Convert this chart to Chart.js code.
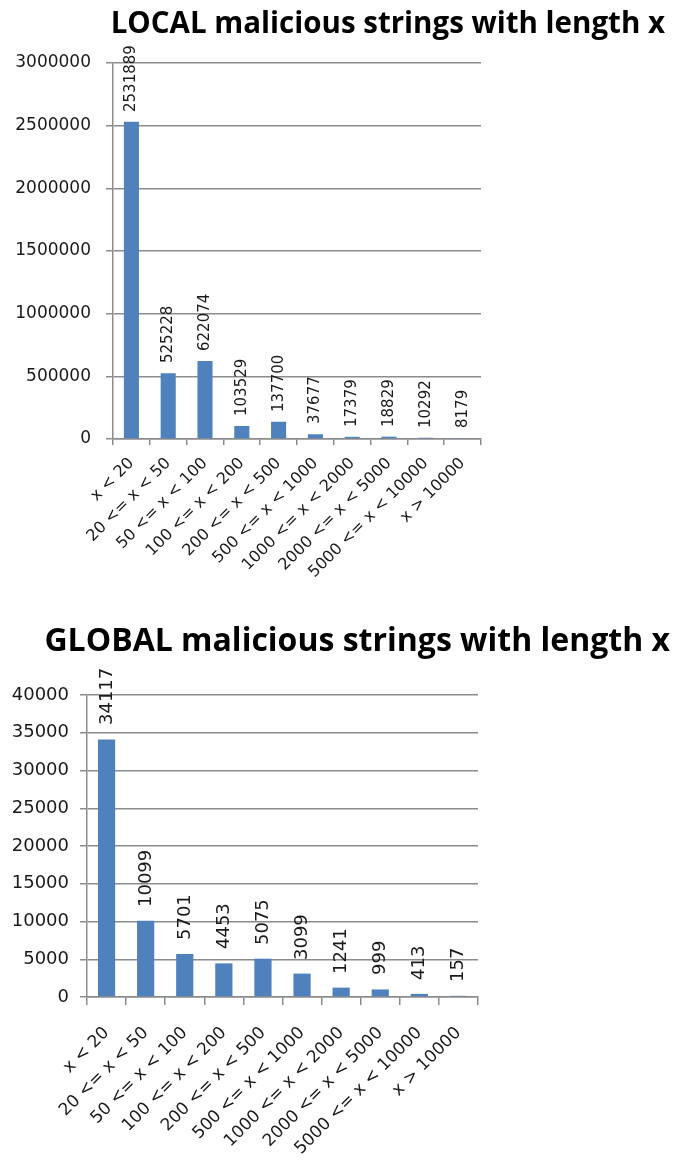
<!DOCTYPE html>
<html>
<head>
<meta charset="utf-8">
<script src="https://cdn.jsdelivr.net/npm/chart.js@4/dist/chart.umd.min.js"></script>
<style>
  html, body { margin: 0; padding: 0; background: #fff; }
  body { position: relative; width: 673px; height: 1165px; overflow: hidden; }
  canvas { position: absolute; left: 0; }
  .title {
    position: absolute; white-space: nowrap;
    font-family: "Open Sans", sans-serif; font-weight: bold; color: #000;
    line-height: 1;
  }
</style>
</head>
<body>
<canvas id="localChart" width="673" height="592" style="top:0"></canvas>
<canvas id="globalChart" width="673" height="565" style="top:600px"></canvas>
<div class="title" style="top:7px; font-size:29.5px; right:8px">LOCAL malicious strings with length x</div>
<div class="title" style="top:623px; font-size:32px; right:3px">GLOBAL malicious strings with length x</div>
<script>
// length buckets shared by both charts
const categories = [
  'x < 20', '20 <= x < 50', '50 <= x < 100', '100 <= x < 200', '200 <= x < 500',
  '500 <= x < 1000', '1000 <= x < 2000', '2000 <= x < 5000', '5000 <= x < 10000', 'x > 10000'
];
const localCounts = [2531889, 525228, 622074, 103529, 137700, 37677, 17379, 18829, 10292, 8179];
const globalCounts = [34117, 10099, 5701, 4453, 5075, 3099, 1241, 999, 413, 157];
const localTicks = { max: 3000000, step: 500000 };
const globalTicks = { max: 40000, step: 5000 };

const barColor = '#4f81bd';
const gridColor = '#8c8c8c';
const textColor = '#1a1a1a';

// value printed vertically just above each bar
const barValueLabels = {
  id: 'barValueLabels',
  afterDatasetsDraw(chart, args, opts) {
    const ctx = chart.ctx;
    const meta = chart.getDatasetMeta(0);
    const values = chart.data.datasets[0].data;
    ctx.save();
    ctx.font = opts.size + 'px "DejaVu Sans", sans-serif';
    ctx.fillStyle = textColor;
    ctx.textAlign = 'left';
    ctx.textBaseline = 'middle';
    meta.data.forEach((bar, i) => {
      ctx.save();
      ctx.translate(Math.round(bar.x), Math.round(bar.y - opts.offset));
      ctx.rotate(-Math.PI / 2);
      ctx.fillText(String(values[i]), 0, 0);
      ctx.restore();
    });
    ctx.restore();
  }
};

function makeChart(id, values, ticks, cfg) {
  const ctx = document.getElementById(id).getContext('2d');
  return new Chart(ctx, {
    type: 'bar',
    data: {
      labels: categories,
      datasets: [{
        data: values,
        backgroundColor: barColor,
        categoryPercentage: 1,
        barPercentage: cfg.barPct,
      }],
    },
    plugins: [barValueLabels],
    options: {
      responsive: false,
      animation: false,
      layout: { padding: { top: cfg.top, right: cfg.right, left: 0, bottom: 0 } },
      plugins: {
        legend: { display: false },
        tooltip: { enabled: false },
        barValueLabels: { size: cfg.valueSize, offset: cfg.valueOffset },
      },
      scales: {
        x: {
          afterFit: (scale) => { scale.height = cfg.xHeight; },
          grid: { display: true, drawOnChartArea: false, color: gridColor, lineWidth: 1.5, tickLength: cfg.xTick, offset: true },
          border: { display: true, color: gridColor, width: 1.5 },
          ticks: {
            autoSkip: false, maxRotation: 45, minRotation: 45, padding: cfg.catPad,
            color: textColor,
            font: { family: '"DejaVu Sans", sans-serif', size: cfg.catSize },
          },
        },
        y: {
          min: 0,
          max: ticks.max,
          afterFit: (scale) => { scale.width = cfg.left; },
          grid: { color: gridColor, lineWidth: 1.5, tickLength: 7 },
          border: { display: true, color: gridColor, width: 1.5 },
          ticks: {
            stepSize: ticks.step,
            padding: cfg.yPad,
            color: textColor,
            font: { family: '"DejaVu Sans", sans-serif', size: cfg.ySize },
            callback: (v) => String(v),
          },
        },
      },
    },
  });
}

makeChart('localChart', localCounts, localTicks, {
  top: 63, right: 192, left: 113, xHeight: 592 - 439, xTick: 6,
  barPct: 0.41, valueSize: 15, valueOffset: 10, catSize: 16, catPad: 9, yPad: 15, ySize: 17,
});

makeChart('globalChart', globalCounts, globalTicks, {
  top: 95, right: 195, left: 87, xHeight: 565 - 397, xTick: 8,
  barPct: 0.44, valueSize: 18, valueOffset: 14, catSize: 17, catPad: 18, yPad: 11, ySize: 18,
});
</script>
</body>
</html>
